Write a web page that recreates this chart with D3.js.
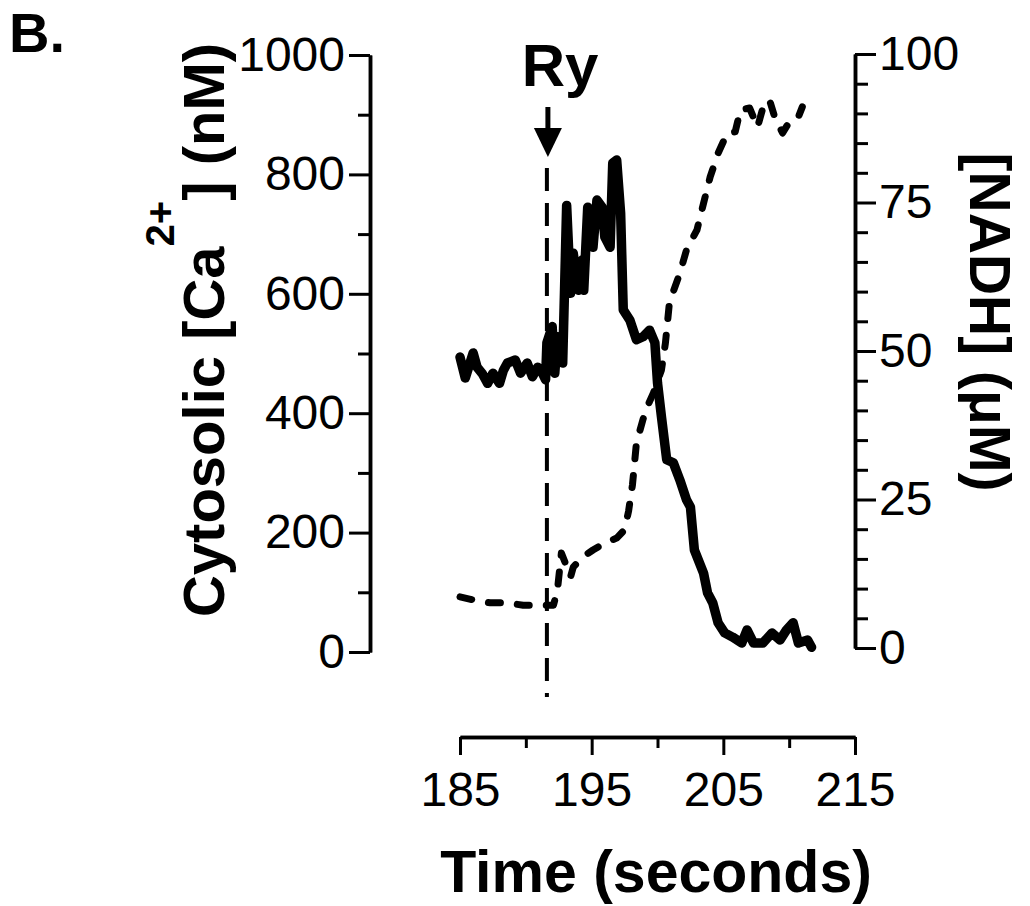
<!DOCTYPE html>
<html><head><meta charset="utf-8">
<script src="https://cdn.jsdelivr.net/npm/d3@7"></script>
<style>body{margin:0;background:#fff} svg{display:block}</style>
</head><body><svg id="c" width="1030" height="906"></svg>
<script>
// ---- data ----
const caTime  = [185.0,185.4,186.0,186.3,186.7,187.1,187.5,188.0,188.3,188.6,189.2,189.6,190.1,190.5,190.9,191.2,191.5,191.6,192.0,192.2,192.4,192.8,193.1,193.4,193.6,194.0,194.3,194.4,194.7,195.1,195.4,195.8,196.0,196.4,196.6,196.9,197.2,197.4,197.9,198.4,198.9,199.4,199.8,200.0,200.3,200.7,201.2,201.7,202.2,202.5,202.8,203.5,203.8,204.2,204.6,205.1,205.7,206.4,206.8,207.3,208.0,208.7,209.3,209.8,210.3,210.7,211.4,211.7];
const caValue = [494,459,501,477,466,450,467,450,472,484,489,467,484,461,477,470,456,518,545,467,528,484,748,601,668,606,657,606,745,678,757,745,695,678,819,824,735,573,556,523,528,539,518,451,394,322,317,288,255,243,171,132,99,82,49,32,25,15,37,15,15,32,20,37,49,15,20,8];
const nadhTime  = [185.0,186.0,187.3,188.6,189.8,191.1,192.1,192.4,192.7,193.4,193.6,194.3,195.1,196.0,196.9,197.5,197.8,198.1,198.4,198.9,199.3,199.7,200.3,200.6,200.9,201.2,201.7,202.2,203.0,203.5,204.0,204.6,205.3,205.9,206.3,207.0,207.6,208.0,208.5,208.9,209.5,210.1,210.7,211.0];
const nadhValue = [8.6,8.1,7.6,7.6,7.2,7.2,7.2,9.8,16.0,12.0,13.6,15.3,16.5,17.7,18.5,19.9,23.0,27.5,34.5,38.5,41.0,43.0,46.8,51.3,58.0,60.0,63.1,67.0,70.4,74.9,79.3,83.3,86.7,86.9,90.6,90.9,87.7,90.9,92.3,89.4,86.7,88.9,89.4,91.1];
const xTicks = [185,195,205,215];
const xMinorTicks = [190,200,210];
const leftTicks = [0,200,400,600,800,1000];
const leftMinorTicks = [100,300,500,700,900];
const rightTicks = [0,25,50,75,100];
const rightMinorTicks = [5,10,15,20,30,35,40,45,55,60,65,70,80,85,90,95];
const ryTime = 191.6;
const panelLabel = "B.";
const stimLabel = "Ry";
const xTitle = "Time (seconds)";
const rightTitle = "[NADH] (\u03BCM)";

// ---- drawing ----
const svg = d3.select("#c");
const FONT = "'Liberation Sans', Arial, Helvetica, sans-serif";
svg.append("rect").attr("width",1030).attr("height",906).attr("fill","#fff");

const x  = d3.scaleLinear().domain([185,215]).range([460,855]);
const yL = d3.scaleLinear().domain([0,1000]).range([652,55]);
const yR = d3.scaleLinear().domain([0,100]).range([648,54]);
const fmt = d3.format("d");

function styleAxis(g){
  g.attr("font-family",FONT).attr("font-size",48);
  g.select(".domain").attr("stroke","#000").attr("stroke-width",3.5);
  g.selectAll(".tick line").attr("stroke","#000").attr("stroke-width",3);
  g.selectAll(".tick text").attr("fill","#000");
}

// left axis
const gL = svg.append("g").attr("transform","translate(370,0)");
gL.append("g").call(d3.axisLeft(yL).tickValues(leftMinorTicks).tickSize(12).tickSizeOuter(0).tickFormat("")).call(styleAxis);
gL.append("g").call(d3.axisLeft(yL).tickValues(leftTicks).tickSize(21).tickSizeOuter(0).tickPadding(4).tickFormat(fmt)).call(styleAxis);

// right axis
const gR = svg.append("g").attr("transform","translate(855,0)");
gR.append("g").call(d3.axisRight(yR).tickValues(rightMinorTicks).tickSize(13).tickSizeOuter(0).tickFormat("")).call(styleAxis);
gR.append("g").call(d3.axisRight(yR).tickValues(rightTicks).tickSize(21).tickSizeOuter(0).tickPadding(3).tickFormat(fmt)).call(styleAxis);

// bottom axis
const gB = svg.append("g").attr("transform","translate(0,737)");
gB.append("g").call(d3.axisBottom(x).tickValues(xMinorTicks).tickSize(11).tickSizeOuter(0).tickFormat("")).call(styleAxis);
gB.append("g").call(d3.axisBottom(x).tickValues(xTicks).tickSize(18).tickSizeOuter(0).tickPadding(17).tickFormat(fmt)).call(styleAxis);
gB.selectAll("text").attr("font-size",48);

// vertical dashed Ry line
svg.append("line")
  .attr("x1",x(ryTime)).attr("x2",x(ryTime))
  .attr("y1",168).attr("y2",697)
  .attr("stroke","#000").attr("stroke-width",4)
  .attr("stroke-dasharray","23,12");

const caData = caTime.map((t,i)=>({t, v:caValue[i]}));
const nadhData = nadhTime.map((t,i)=>({t, v:nadhValue[i]}));

// NADH dashed trace
svg.append("path").datum(nadhData)
  .attr("fill","none").attr("stroke","#000").attr("stroke-width",7)
  .attr("stroke-linecap","round").attr("stroke-linejoin","round")
  .attr("stroke-dasharray","12,17")
  .attr("d", d3.line().x(d=>x(d.t)).y(d=>yR(d.v)));

// Ca solid trace
svg.append("path").datum(caData)
  .attr("fill","none").attr("stroke","#000").attr("stroke-width",9.5)
  .attr("stroke-linecap","round").attr("stroke-linejoin","round")
  .attr("d", d3.line().x(d=>x(d.t)).y(d=>yL(d.v)));

// arrow
const ax = x(ryTime)+1;
svg.append("line").attr("x1",ax).attr("x2",ax).attr("y1",107).attr("y2",132)
  .attr("stroke","#000").attr("stroke-width",5);
svg.append("path").attr("d",`M${ax-14},128L${ax+14},128L${ax},157Z`).attr("fill","#000");

// texts
svg.append("text").attr("x",560).attr("y",86).attr("text-anchor","middle")
  .attr("font-family",FONT).attr("font-weight","bold").attr("font-size",60).text(stimLabel);
svg.append("text").attr("x",9).attr("y",52)
  .attr("font-family",FONT).attr("font-weight","bold").attr("font-size",56).text(panelLabel);
svg.append("text").attr("x",656).attr("y",892).attr("text-anchor","middle")
  .attr("font-family",FONT).attr("font-weight","bold").attr("font-size",59).text(xTitle);

const lt = svg.append("text").attr("transform","translate(224,330) rotate(-90)")
  .attr("text-anchor","middle").attr("font-family",FONT).attr("font-weight","bold").attr("font-size",58);
lt.append("tspan").text("Cytosolic [Ca");
lt.append("tspan").attr("font-size",40).attr("dy",-50).text("2+");
lt.append("tspan").attr("dy",50).text("] (nM)");

svg.append("text").attr("transform","translate(970,322) rotate(90)")
  .attr("text-anchor","middle").attr("font-family",FONT).attr("font-weight","bold").attr("font-size",57)
  .text(rightTitle);
</script></body></html>
